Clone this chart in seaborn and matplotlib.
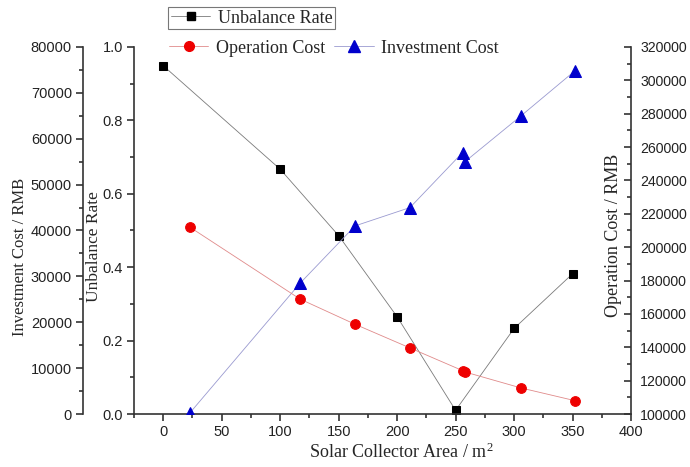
import numpy as np
import pandas as pd
import matplotlib
matplotlib.use("Agg")
import matplotlib.pyplot as plt
import seaborn as sns
from matplotlib.ticker import MultipleLocator, FormatStrFormatter
from matplotlib.lines import Line2D

# Data
area_unb = [0, 100, 150, 200, 250, 300, 350]
unbalance = [0.949, 0.667, 0.486, 0.265, 0.01, 0.233, 0.382]

area_cost = [23, 117, 164, 211, 256, 258, 306, 352]
operation = [211900, 168900, 153800, 139600, 126000, 125200, 115600, 108000]
investment = [300, 28500, 41000, 45000, 57000, 55000, 65000, 74800]

sns.set_style("ticks")
plt.rcParams["font.family"] = ["Liberation Sans", "DejaVu Sans"]
plt.rcParams["mathtext.fontset"] = "custom"
plt.rcParams["mathtext.rm"] = "Liberation Serif"
plt.rcParams["mathtext.it"] = "Liberation Serif"
serif = ["Liberation Serif", "DejaVu Serif"]

fig = plt.figure(figsize=(6.9, 4.67), dpi=100)
ax = fig.add_axes([134/690, 1 - 414/467, (631 - 134)/690, (414 - 47)/467])
ax_inv = ax.twinx()
ax_op = ax.twinx()

df_u = pd.DataFrame({"area": area_unb, "rate": unbalance})
df_c = pd.DataFrame({"area": area_cost, "op": operation, "inv": investment})

sty_u = dict(color="#7a7a7a", linewidth=0.6, marker="s", markersize=5.5,
             markerfacecolor="black", markeredgecolor="black")
sty_o = dict(color="#e08a8a", linewidth=0.6, marker="o", markersize=7,
             markerfacecolor="#ee0000", markeredgecolor="#ee0000")
sty_i = dict(color="#9a9ad0", linewidth=0.6, marker="^", markersize=8,
             markerfacecolor="#0000cc", markeredgecolor="#0000cc")

sns.lineplot(data=df_u, x="area", y="rate", ax=ax, sort=False, **sty_u)
sns.lineplot(data=df_c, x="area", y="op", ax=ax_op, sort=False, **sty_o)
sns.lineplot(data=df_c, x="area", y="inv", ax=ax_inv, sort=False, **sty_i)

ax.set_xlim(-25, 400)
ax.set_ylim(0, 1.0)
ax_inv.set_ylim(0, 80000)
ax_op.set_ylim(100000, 320000)

# spines
for s in ["top", "right"]:
    ax.spines[s].set_visible(False)
for s in ["top", "right", "bottom"]:
    ax_inv.spines[s].set_visible(False)
ax_inv.spines["left"].set_visible(True)
ax_inv.spines["left"].set_position(("outward", 51 * 72 / 100))
ax_inv.yaxis.set_label_position("left")
ax_inv.yaxis.set_ticks_position("left")
for s in ["top", "left", "bottom"]:
    ax_op.spines[s].set_visible(False)
ax_op.spines["right"].set_visible(True)

for a in [ax, ax_inv, ax_op]:
    for s in a.spines.values():
        s.set_linewidth(1.2)
        s.set_color("#333333")

ax.xaxis.set_major_locator(MultipleLocator(50))
ax.xaxis.set_minor_locator(MultipleLocator(25))
ax.yaxis.set_major_locator(MultipleLocator(0.2))
ax.yaxis.set_minor_locator(MultipleLocator(0.1))
ax_inv.yaxis.set_major_locator(MultipleLocator(10000))
ax_inv.yaxis.set_minor_locator(MultipleLocator(5000))
ax_op.yaxis.set_major_locator(MultipleLocator(20000))
ax_op.yaxis.set_minor_locator(MultipleLocator(10000))
ax.yaxis.set_major_formatter(FormatStrFormatter("%.1f"))

for a in [ax, ax_inv]:
    a.tick_params(which="major", direction="out", length=5, width=1.2,
                  labelsize=10.5, colors="#333333", labelcolor="#222222", pad=3)
    a.tick_params(which="minor", direction="out", length=3, width=1.2,
                  colors="#333333")
ax_op.tick_params(which="major", direction="in", length=5, width=1.2,
                  labelsize=10.2, colors="#333333", labelcolor="#222222", pad=6.5)
ax_op.tick_params(which="minor", direction="in", length=3, width=1.2,
                  colors="#333333")
ax.set_xticks([0, 50, 100, 150, 200, 250, 300, 350, 400])

ax.set_xlabel("Solar Collector Area / m$^2$", family=serif, fontsize=13)
ax.xaxis.set_label_coords(0.537, -0.079)
ax.set_ylabel("Unbalance Rate", family=serif, fontsize=12.5)
ax.yaxis.set_label_coords(-0.064, 0.455)
ax_inv.set_ylabel("Investment Cost / RMB", family=serif, fontsize=12)
ax_inv.yaxis.set_label_coords(-0.213, 0.428)
ax_op.set_ylabel("Operation Cost / RMB", family=serif, fontsize=13, rotation=90)
ax_op.yaxis.set_label_coords(0.948, 0.488)

# legends
h_u = Line2D([], [], **sty_u)
h_o = Line2D([], [], **sty_o)
h_i = Line2D([], [], **sty_i)
leg1 = fig.legend([h_u], ["Unbalance Rate"], loc="upper left",
                  bbox_to_anchor=(168/690, 1 - 7/467), frameon=True, fancybox=False,
                  edgecolor="#555555", prop={"family": serif, "size": 13},
                  handlelength=2.2, borderpad=0.15, handletextpad=0.4, borderaxespad=0)
leg1.get_frame().set_linewidth(0.8)
leg2 = fig.legend([h_o, h_i], ["Operation Cost", "Investment Cost"], loc="upper left",
                  bbox_to_anchor=(166/690, 1 - 37/467), frameon=False, ncol=2,
                  prop={"family": serif, "size": 13}, handlelength=2.2,
                  handletextpad=0.4, columnspacing=0.5, borderaxespad=0, borderpad=0.15)

fig.savefig("out.png", dpi=100)
